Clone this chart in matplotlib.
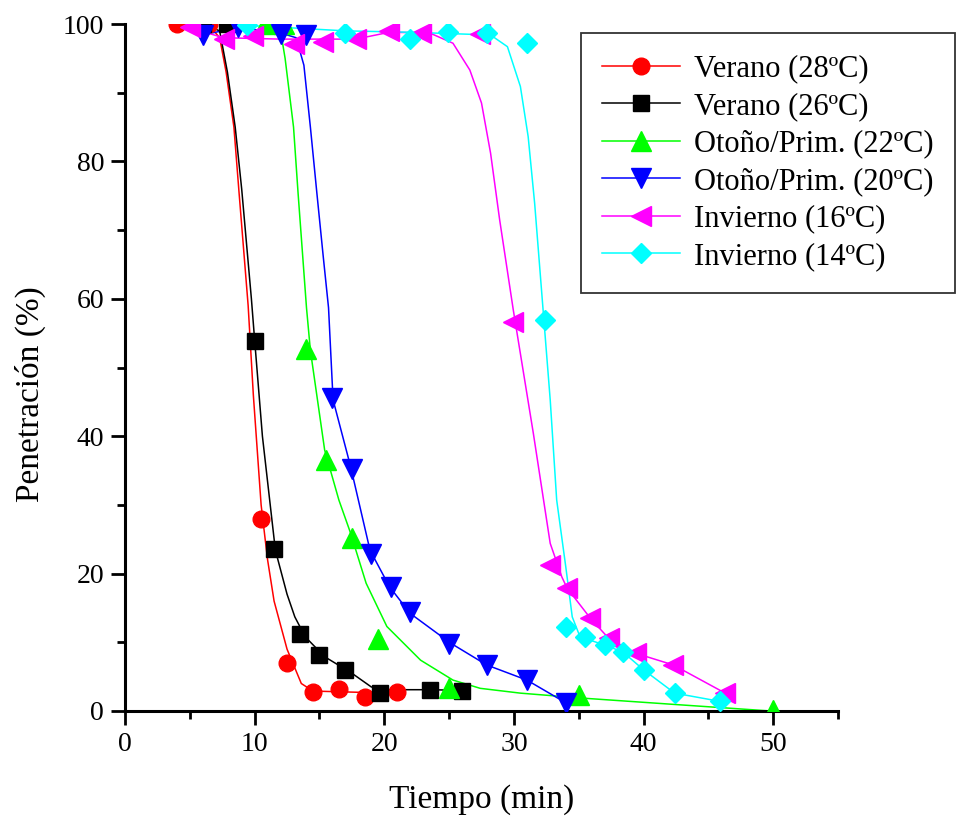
import matplotlib
matplotlib.use("Agg")
import matplotlib.pyplot as plt
from matplotlib.lines import Line2D

plt.rcParams['font.family'] = ['Liberation Serif', 'DejaVu Serif']

# measured points (markers)
red_t = [4, 6.5, 10.5, 12.5, 14.5, 16.5, 18.5, 21]
red_p = [100, 100, 28, 7, 2.8, 3.2, 2.1, 2.7]
blk_t = [6, 7.9, 10, 11.5, 13.5, 15, 17, 19.7, 23.5, 26]
blk_p = [100, 100, 53.8, 23.6, 11.2, 8.1, 5.9, 2.6, 3.1, 2.9]
grn_t = [10.8, 12.3, 14, 15.5, 17.5, 19.5, 25, 35, 50]
grn_p = [100, 100, 52.7, 36.5, 25.2, 10.5, 3.3, 2.3, 0.2]
blu_t = [6, 8.7, 12, 14, 16, 17.5, 19, 20.5, 22, 25, 27.9, 31, 34]
blu_p = [98.4, 99.5, 98.5, 98.4, 45.6, 35.2, 22.8, 18.1, 14.4, 9.8, 6.7, 4.5, 1.2]
mag_t = [5.0, 7.6, 9.9, 13.0, 15.3, 17.8, 20.4, 22.8, 27.4, 29.9, 32.8, 34.1, 35.9, 37.3, 39.4, 42.3, 46.3]
mag_p = [99.6, 97.8, 98.3, 97.1, 97.4, 97.8, 99.0, 98.7, 98.5, 56.6, 21.2, 17.9, 13.5, 10.6, 8.4, 6.7, 2.6]
cya_t = [9.4, 17.0, 22.0, 24.9, 27.9, 31.0, 32.4, 34.0, 35.5, 37.0, 38.4, 40.0, 42.4, 45.9]
cya_p = [99.8, 98.7, 97.8, 98.8, 98.7, 97.2, 56.9, 12.2, 10.8, 9.6, 8.6, 6.0, 2.6, 1.4]

# fitted curves
red_cx = [4, 6.5, 7.3, 7.8, 8.4, 8.8, 9.5, 9.9, 10.5, 11.0, 11.5, 12.5, 13.6, 14.5, 16.5, 18.5, 21]
red_cy = [100, 99.8, 98, 93, 85, 75.4, 59, 46, 30, 22, 16, 9, 4, 2.9, 2.8, 2.7, 2.7]
blk_cx = [6, 7.3, 7.9, 8.5, 9.0, 9.75, 10.0, 10.6, 11.6, 12.5, 13.1, 13.9, 15.4, 17.5, 19.0, 20, 23.5, 26]
blk_cy = [100, 99, 93, 85, 76, 60, 54, 40, 23.4, 17, 13.7, 10.8, 7.9, 5.5, 3.5, 3.1, 3.1, 3.0]
grn_cx = [10.8, 12.0, 12.35, 13.0, 13.35, 14.0, 14.3, 15.4, 16.5, 17.4, 18.6, 20.2, 22.8, 25.3, 27.4, 30.5, 35.1, 42.8, 49.8]
grn_cy = [99.8, 99, 95, 85, 75.4, 58.7, 52.5, 38, 30.7, 25.9, 18.6, 12.3, 7.4, 4.5, 3.3, 2.6, 1.9, 0.9, 0]
blu_cx = [6, 8.7, 12, 13.2, 13.8, 14.3, 14.8, 15.3, 15.7, 16.05, 17.4, 18.9, 20.4, 22, 25.1, 27.9, 31, 34]
blu_cy = [98.4, 99.5, 98.7, 98, 94, 85, 75.4, 66, 58.7, 45.3, 35.6, 23.4, 18.1, 14.2, 9.9, 6.7, 4.5, 1.2]
mag_cx = [4, 7.6, 12, 17.8, 20.4, 23.5, 25.3, 26.6, 27.5, 28.2, 28.9, 29.95, 30.2, 31.5, 32.8, 33.7, 34.1, 35.9, 37.3, 39.4, 42.3, 46.3]
mag_cy = [100, 98, 97.8, 97.8, 98.8, 98.7, 97.2, 93.3, 88.5, 81.2, 71.5, 58.4, 55.5, 40.4, 24.4, 19.5, 17.9, 13.5, 10.6, 8.4, 6.7, 2.6]
cya_cx = [9.4, 17, 22, 28.2, 29.5, 30.5, 31.1, 31.6, 32.25, 32.8, 33.3, 34.0, 34.5, 35.1, 37.0, 38.4, 40.0, 42.4, 45.9]
cya_cy = [99.8, 99.0, 98.8, 98.4, 96.7, 90.9, 83.6, 73.9, 58.4, 45.3, 30.7, 21, 13.7, 10.8, 9.6, 8.6, 6.0, 2.6, 1.4]

labels = ["Verano (28ºC)", "Verano (26ºC)", "Otoño/Prim. (22ºC)",
          "Otoño/Prim. (20ºC)", "Invierno (16ºC)", "Invierno (14ºC)"]

series = [
    (red_t, red_p, red_cx, red_cy, '#ff0000', 'o', 12),
    (blk_t, blk_p, blk_cx, blk_cy, '#000000', 's', 11),
    (grn_t, grn_p, grn_cx, grn_cy, '#00ff00', '^', 14),
    (blu_t, blu_p, blu_cx, blu_cy, '#0000ff', 'v', 14),
    (mag_t, mag_p, mag_cx, mag_cy, '#ff00ff', '<', 14),
    (cya_t, cya_p, cya_cx, cya_cy, '#00ffff', 'D', 10.5),
]

fig = plt.figure(figsize=(9.58, 8.16), dpi=100)
ax = fig.add_axes([125/958, 1-711/816, 713/958, 687/816])

handles = []
for (t, p, cx, cy, c, m, ms), lab in zip(series, labels):
    ax.plot(cx, cy, color=c, lw=1.1, zorder=2)
    ax.plot(t, p, ls='none', marker=m, ms=ms, color=c, mec=c, zorder=3)
    handles.append(Line2D([], [], color=c, lw=1.1, marker=m, ms=ms, mec=c))

ax.set_xlim(0, 55)
ax.set_ylim(0, 100)
ax.set_xticks([0, 10, 20, 30, 40, 50])
ax.set_xticks([5, 15, 25, 35, 45, 55], minor=True)
ax.set_yticks([0, 20, 40, 60, 80, 100])
ax.set_yticks([10, 30, 50, 70, 90], minor=True)
for s in ['top', 'right']:
    ax.spines[s].set_visible(False)
for s in ['left', 'bottom']:
    ax.spines[s].set_linewidth(2.2)
ax.tick_params(which='major', direction='out', length=10, width=2, labelsize=20, pad=5)
ax.tick_params(which='minor', direction='out', length=5.5, width=2)
ax.set_xlabel("Tiempo (min)", fontsize=24)
ax.xaxis.set_label_coords(0.5, -0.106)
ax.set_ylabel("Penetración (%)", fontsize=24)
ax.yaxis.set_label_coords(-0.111, 0.461)

leg = ax.legend(handles, labels, loc='upper right', bbox_to_anchor=(955/958, 1-33/816),
                bbox_transform=fig.transFigure, borderaxespad=0, fontsize=22,
                handlelength=2.55, handletextpad=0.45, labelspacing=0.28,
                frameon=True, fancybox=False, borderpad=0.7)
leg.get_frame().set_edgecolor('black')
leg.get_frame().set_linewidth(1.3)

fig.savefig("out.png", dpi=100)
